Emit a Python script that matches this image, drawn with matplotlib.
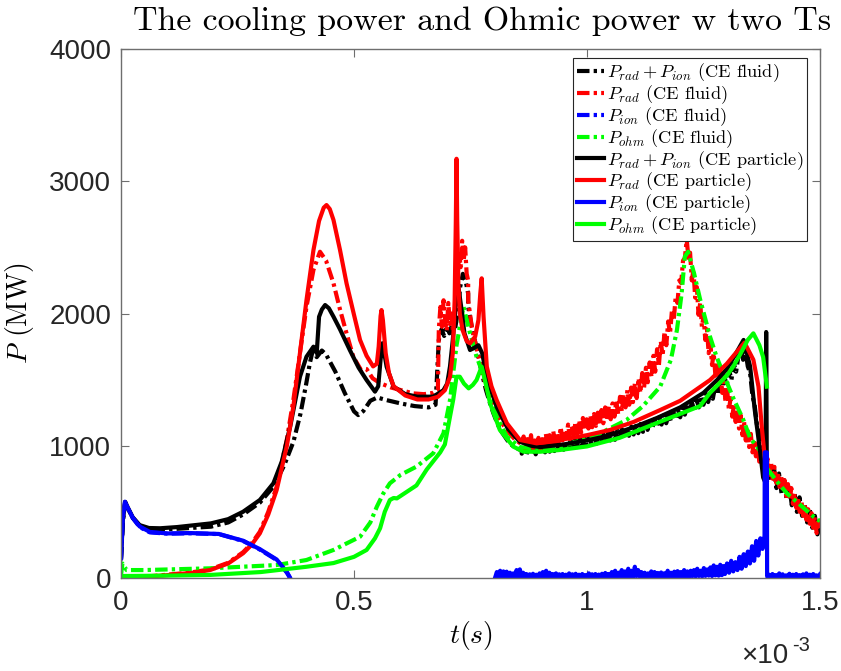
import numpy as np
import matplotlib
matplotlib.use("Agg")
import matplotlib.pyplot as plt
from matplotlib.font_manager import FontProperties

plt.rcParams['mathtext.fontset'] = 'cm'

# ---------------- data (time in ms, power in MW) ----------------
# P_rad + P_ion (CE fluid) -- smooth part
tot_fluid_t = [0, 0.004, 0.009, 0.015, 0.025, 0.04, 0.06, 0.084, 0.12, 0.193, 0.23, 0.262, 0.298,
               0.327, 0.35, 0.37, 0.385, 0.397, 0.405, 0.413, 0.42, 0.431, 0.44, 0.46, 0.48, 0.50,
               0.509, 0.52, 0.535, 0.55, 0.57, 0.60, 0.63, 0.66, 0.675]
tot_fluid_p = [140, 430, 565, 525, 455, 395, 370, 365, 372, 388, 420, 480, 570,
               690, 850, 1030, 1240, 1460, 1620, 1745, 1670, 1720, 1690, 1560, 1400, 1260,
               1232, 1262, 1340, 1365, 1345, 1320, 1300, 1290, 1310]
# noisy parts: (start, end, values)
tot_fluid_n1 = (0.682, 0.745, [1800, 1880, 1830, 1900, 1850, 1920, 1870, 2000, 2200, 2300, 2250, 2150])
tot_fluid_n2 = (0.745, 0.86, [2050, 1900, 1780, 1650, 1530, 1420, 1330, 1250, 1180, 1120, 1080,
                              1040, 1010, 990, 975, 965])
tot_fluid_n3 = (0.86, 1.33, [940, 990, 930, 1000, 945, 985, 935, 1005, 950, 995,
                             950, 1010, 955, 1020, 960, 1025, 965, 1030, 970, 1035,
                             975, 1040, 980, 1050, 990, 1055, 995, 1060, 1000, 1065,
                             1010, 1075, 1015, 1085, 1025, 1090, 1030, 1100, 1040, 1105,
                             1045, 1115, 1055, 1125, 1065, 1135, 1075, 1145, 1085, 1150,
                             1095, 1165, 1105, 1175, 1120, 1190, 1130, 1200, 1145, 1215,
                             1160, 1230, 1170, 1245, 1185, 1260, 1200, 1275, 1215, 1290,
                             1235, 1310, 1250, 1330, 1270, 1350, 1290, 1375, 1310, 1395,
                             1330, 1420, 1355, 1450, 1385, 1480, 1420, 1520, 1460, 1570,
                             1500, 1620, 1560, 1680, 1750])
tot_fluid_n4 = (1.335, 1.39, [1650, 1720, 1600, 1550, 1380, 1300, 1150, 1100, 950, 930, 820, 850])
tot_fluid_n5 = (1.39, 1.5, [820, 730, 840, 680, 790, 640, 740, 590, 700, 550, 650, 500, 610, 470,
                            560, 420, 520, 380, 470, 330, 400])

# P_rad (CE fluid)
rad_fluid_t = [0, 0.05, 0.1, 0.15, 0.191, 0.23, 0.262, 0.28, 0.298, 0.316, 0.334, 0.356, 0.37, 0.384,
               0.398, 0.413, 0.427, 0.44, 0.456, 0.47, 0.484, 0.4985, 0.515, 0.52, 0.527, 0.54,
               0.556, 0.58, 0.627, 0.65, 0.67, 0.68]
rad_fluid_p = [0, 10, 25, 42, 65, 115, 195, 260, 350, 500, 690, 1050, 1350, 1700,
               2050, 2330, 2467, 2400, 2228, 2030, 1850, 1673, 1573, 1585, 1580, 1510,
               1473, 1440, 1396, 1390, 1400, 1420]
rad_fluid_n1 = (0.682, 0.716, [1880, 2050, 1900, 2100, 1950, 1870, 2080, 1920, 2000, 1860, 1980])
rad_fluid_n2 = (0.716, 0.745, [2000, 2150, 2300, 2450, 2350, 2550, 2400, 2500, 2300, 2250])
rad_fluid_n3 = (0.745, 0.86, [2100, 1900, 1780, 1670, 1560, 1450, 1370, 1300, 1245, 1195, 1150,
                              1115, 1080, 1050, 1030, 1010])
rad_fluid_n4 = (0.86, 1.214, [1010, 1070, 960, 1050, 980, 1080, 950, 1040, 990, 1060,
                              960, 1050, 1000, 1090, 990, 1080, 1010, 1110, 1020, 1100,
                              1030, 1140, 1040, 1120, 1060, 1160, 1050, 1150, 1080, 1180,
                              1090, 1190, 1100, 1210, 1120, 1200, 1130, 1230, 1140, 1240,
                              1150, 1250, 1160, 1270, 1170, 1290, 1190, 1300, 1200, 1320,
                              1220, 1340, 1240, 1370, 1260, 1390, 1290, 1420, 1310, 1440,
                              1330, 1470, 1360, 1510, 1400, 1550, 1440, 1590, 1480, 1630,
                              1520, 1680, 1560, 1730, 1610, 1790, 1680, 1860, 1760, 1940,
                              1850, 2020, 1950, 2120, 2080, 2250, 2230, 2400, 2420, 2560])
rad_fluid_n5 = (1.214, 1.5, [2560, 2420, 2460, 2250, 2330, 2120, 2200, 1990, 2080, 1900,
                             1980, 1800, 1880, 1700, 1780, 1610, 1700, 1530, 1620, 1460,
                             1560, 1400, 1480, 1330, 1420, 1270, 1360, 1220, 1310, 1180,
                             1280, 1130, 1230, 1080, 1180, 1040, 1130, 990, 1090, 950,
                             1050, 920, 1010, 880, 970, 840, 930, 800, 900, 780,
                             870, 750, 840, 720, 800, 690, 770, 650, 740, 620,
                             710, 590, 680, 560, 640, 530, 610, 500, 580, 470,
                             550, 440, 520, 410, 490, 380, 460, 340, 430, 380])

# P_ion (CE fluid)
ion_fluid_t = [0, 0.004, 0.0086, 0.015, 0.025, 0.04, 0.062, 0.1, 0.148, 0.21, 0.262, 0.298,
               0.334, 0.356, 0.363]
ion_fluid_p = [140, 450, 577, 525, 455, 385, 345, 335, 338, 332, 280, 215, 136, 40, 0]

# P_ohm (CE fluid)
ohm_fluid_t = [0, 0.003, 0.012, 0.05, 0.19, 0.334, 0.398, 0.456, 0.513, 0.535, 0.549, 0.563, 0.577,
               0.60, 0.634, 0.67, 0.692, 0.706, 0.72, 0.735, 0.749, 0.763, 0.785, 0.806, 0.828,
               0.856, 0.9, 0.942, 1.014, 1.085, 1.12, 1.157, 1.18, 1.193, 1.203, 1.21, 1.217, 1.23,
               1.2425, 1.264, 1.278, 1.30, 1.314, 1.335, 1.35, 1.37, 1.386, 1.41, 1.429, 1.46,
               1.486, 1.5]
ohm_fluid_p = [20, 110, 60, 60, 73, 98, 136, 212, 312, 420, 539, 640, 716,
               780, 842, 943, 1094, 1346, 1760, 2051, 1850, 1673, 1472, 1220, 1069,
               990, 975, 993, 1069, 1195, 1300, 1447, 1650, 1875, 2150, 2430, 2467, 2300,
               2110, 1825, 1673, 1480, 1360, 1200, 1060, 968, 830, 720, 640, 545,
               464, 430]

# P_rad + P_ion (CE particle)
tot_part_t = [0, 0.004, 0.009, 0.015, 0.025, 0.04, 0.06, 0.084, 0.12, 0.193, 0.23, 0.262, 0.298,
              0.327, 0.345, 0.363, 0.384, 0.398, 0.413, 0.42, 0.425, 0.431, 0.438, 0.446, 0.456,
              0.47, 0.491, 0.51, 0.527, 0.545, 0.552, 0.557, 0.561, 0.565, 0.57, 0.585, 0.61,
              0.636, 0.67, 0.692, 0.70, 0.706, 0.712, 0.718, 0.724, 0.73, 0.737, 0.749, 0.758,
              0.767, 0.775, 0.785, 0.806, 0.83, 0.856, 0.88, 0.90, 0.95, 1.0, 1.05, 1.1, 1.15,
              1.2, 1.25, 1.28, 1.30, 1.32, 1.336, 1.35, 1.36, 1.371, 1.378, 1.383, 1.3845, 1.386]
tot_part_p = [150, 440, 575, 530, 460, 400, 378, 376, 385, 413, 445, 501, 590,
              716, 880, 1144, 1522, 1673, 1749, 1700, 1975, 2030, 2064, 2040, 1976,
              1880, 1724, 1590, 1497, 1409, 1450, 1650, 1775, 1700, 1598, 1447, 1390,
              1371, 1371, 1420, 1470, 1600, 1800, 2050, 2200, 2050, 1850, 1724, 1740,
              1760, 1700, 1522, 1295, 1130, 1030, 1000, 990, 1010, 1040, 1080, 1140, 1210,
              1290, 1400, 1500, 1580, 1700, 1800, 1600, 1270, 970, 760, 720, 1860, 690]

# P_rad (CE particle)
rad_part_t = [0, 0.05, 0.1, 0.15, 0.191, 0.23, 0.262, 0.28, 0.298, 0.316, 0.334, 0.356, 0.37, 0.384,
              0.398, 0.413, 0.425, 0.435, 0.441, 0.448, 0.456, 0.47, 0.484, 0.50, 0.513, 0.527,
              0.541, 0.549, 0.553, 0.557, 0.559, 0.562, 0.568, 0.575, 0.585, 0.61, 0.636, 0.66,
              0.68, 0.695, 0.706, 0.712, 0.716, 0.7185, 0.72, 0.7215, 0.724, 0.727, 0.733, 0.742,
              0.749, 0.76, 0.767, 0.771, 0.774, 0.778, 0.785, 0.795, 0.806, 0.828, 0.856, 0.892,
              0.942, 1.0, 1.05, 1.1, 1.157, 1.2, 1.264, 1.30, 1.338, 1.357, 1.368, 1.375, 1.382,
              1.386]
rad_part_p = [0, 8, 22, 38, 60, 110, 187, 250, 338, 480, 665, 1000, 1300, 1700,
              2100, 2480, 2700, 2800, 2820, 2790, 2707, 2480, 2228, 1990, 1800, 1680,
              1600, 1620, 1750, 1980, 2026, 1950, 1700, 1550, 1450, 1380, 1350, 1350,
              1370, 1420, 1520, 1700, 2100, 2700, 3170, 2700, 2228, 2000, 1875, 1790,
              1775, 1825, 1950, 2150, 2266, 1976, 1598, 1450, 1346, 1170, 1044, 1018,
              1044, 1080, 1120, 1180, 1270, 1340, 1497, 1620, 1780, 1650, 1447, 1144, 892,
              741]

# P_ion (CE particle)
ion_part_t = [0, 0.004, 0.0086, 0.015, 0.025, 0.04, 0.062, 0.1, 0.148, 0.21, 0.262, 0.298,
              0.334, 0.356, 0.363]
ion_part_p = [150, 460, 575, 528, 458, 390, 348, 337, 340, 333, 282, 218, 140, 45, 0]
ion_part_n1 = (0.803, 1.293, [5, 45, 10, 55, 8, 50, 12, 48, 6, 40,
                              10, 35, 5, 60, 8, 65, 10, 40, 4, 30,
                              8, 28, 5, 32, 10, 25, 6, 35, 8, 45,
                              10, 55, 8, 40, 5, 30, 10, 35, 6, 28,
                              8, 30, 5, 25, 10, 35, 6, 28, 8, 32,
                              5, 25, 10, 30, 6, 22, 8, 35, 5, 28,
                              10, 30, 6, 26, 8, 32, 5, 38, 10, 30,
                              6, 45, 10, 55, 8, 40, 12, 60, 8, 50,
                              10, 70, 12, 55, 8, 85, 15, 60, 10, 45,
                              8, 40, 10, 35, 6, 50, 10, 45, 8, 38,
                              10, 42, 8, 36, 12, 55, 8, 40, 10, 48,
                              12, 52, 10, 45, 8, 60, 12, 50, 10, 55,
                              14, 60, 12, 70, 15, 55, 12, 75, 16, 65,
                              18, 80, 15, 95, 20, 85, 18, 100, 22, 90])
ion_part_n2 = (1.296, 1.381, [30, 110, 40, 130, 50, 120, 60, 160, 70, 180, 90, 200, 110, 240, 130,
                              280, 170, 300, 220, 320])
ion_part_spike_t = [1.3815, 1.386, 1.3865]
ion_part_spike_p = [950, 950, 20]
ion_part_n3 = (1.387, 1.5, [8, 25, 5, 30, 10, 22, 6, 35, 8, 28, 5, 20, 10, 32, 6, 25, 8, 30, 5, 22,
                            10, 28, 6, 35, 8, 25, 5, 30, 10, 20, 6, 28])

# P_ohm (CE particle)
ohm_part_t = [0, 0.005, 0.1, 0.19, 0.3, 0.398, 0.456, 0.5, 0.527, 0.545, 0.556, 0.566, 0.577, 0.585,
              0.592, 0.634, 0.656, 0.685, 0.695, 0.706, 0.713, 0.72, 0.727, 0.736, 0.746, 0.755,
              0.763, 0.774, 0.782, 0.792, 0.813, 0.842, 0.864, 0.9, 0.942, 1.0, 1.07, 1.157,
              1.2425, 1.264, 1.30, 1.314, 1.33, 1.345, 1.357, 1.37, 1.378, 1.386]
ohm_part_p = [5, 15, 18, 23, 45, 85, 113, 160, 212, 300, 376, 500, 590, 605,
              602, 700, 820, 950, 1010, 1220, 1350, 1522, 1522, 1470, 1434, 1460,
              1497, 1598, 1480, 1321, 1119, 993, 955, 955, 968, 995, 1060, 1182,
              1300, 1400, 1530, 1600, 1700, 1800, 1850, 1760, 1670, 1447]

labels = [r'$P_{rad}+P_{ion}$ (CE fluid)', r'$P_{rad}$ (CE fluid)', r'$P_{ion}$ (CE fluid)',
          r'$P_{ohm}$ (CE fluid)', r'$P_{rad}+P_{ion}$ (CE particle)', r'$P_{rad}$ (CE particle)',
          r'$P_{ion}$ (CE particle)', r'$P_{ohm}$ (CE particle)']
colors = ['#000000', '#ff0000', '#0000ff', '#00ff00']
x_ticks = [0, 0.5, 1, 1.5]
x_ticklabels = ['0', '0.5', '1', '1.5']
y_ticks = [0, 1000, 2000, 3000, 4000]


# ---------------- helpers ----------------
def join(t_list, p_list, *segs):
    ts = [np.asarray(t_list, float)]
    ps = [np.asarray(p_list, float)]
    for s in segs:
        if s is None:
            ts.append(np.array([np.nan]))
            ps.append(np.array([np.nan]))
        elif len(s) == 2:
            ts.append(np.asarray(s[0], float))
            ps.append(np.asarray(s[1], float))
        else:
            t0, t1, vals = s
            ts.append(np.linspace(t0, t1, len(vals)))
            ps.append(np.asarray(vals, float))
    return np.concatenate(ts) * 1e-3, np.concatenate(ps)


fig = plt.figure(figsize=(8.41, 6.71), dpi=100)
ax = fig.add_axes([121 / 841, 1 - 578 / 671, 699 / 841, 529 / 671])

LW = 3.0
DASH = (0, (3, 1, 0.8, 1))

series_fluid = [
    join(tot_fluid_t, tot_fluid_p, tot_fluid_n1, tot_fluid_n2, tot_fluid_n3, tot_fluid_n4, tot_fluid_n5),
    join(rad_fluid_t, rad_fluid_p, rad_fluid_n1, rad_fluid_n2, rad_fluid_n3, rad_fluid_n4, rad_fluid_n5),
    join(ion_fluid_t, ion_fluid_p),
    join(ohm_fluid_t, ohm_fluid_p),
]
series_part = [
    join(tot_part_t, tot_part_p),
    join(rad_part_t, rad_part_p),
    join(ion_part_t, ion_part_p, None, ion_part_n1, ion_part_n2,
         (ion_part_spike_t, ion_part_spike_p), ion_part_n3),
    join(ohm_part_t, ohm_part_p),
]

handles = []
for (t, p), c, lab in zip(series_fluid, colors, labels[:4]):
    h, = ax.plot(t, p, color=c, lw=LW, linestyle=DASH, label=lab)
    handles.append(h)
for (t, p), c, lab in zip(series_part, colors, labels[4:]):
    h, = ax.plot(t, p, color=c, lw=LW, linestyle='-', label=lab)
    handles.append(h)

ax.set_xlim(0, 1.5e-3)
ax.set_ylim(0, 4000)
ax.set_xticks([v * 1e-3 for v in x_ticks])
ax.set_xticklabels(x_ticklabels)
ax.set_yticks(y_ticks)
ax.set_yticklabels([str(v) for v in y_ticks])

spine_col = '#6e6e6e'
for s in ax.spines.values():
    s.set_color(spine_col)
    s.set_linewidth(1.0)
ax.tick_params(direction='in', length=6, width=0.8, color=spine_col, top=True, right=True,
               labelsize=20, labelcolor='#262626')
ax.tick_params(axis='x', pad=9)
ax.tick_params(axis='y', pad=7)
for lab in ax.get_xticklabels() + ax.get_yticklabels():
    lab.set_fontfamily('Liberation Sans')

ax.set_xlabel(r'$t(s)$', fontsize=20)
ax.xaxis.set_label_coords(0.5, -0.078)
ax.set_ylabel(r'$P$ (MW)', fontsize=20, fontfamily='cmr10')
ax.yaxis.set_label_coords(-0.122, 0.5)

fig.text(482 / 841, 1 - 21 / 671, 'The cooling power and Ohmic power w two Ts',
         fontfamily='cmr10', fontsize=24.4, ha='center', va='center')

fig.text(741 / 841, 1 - 663 / 671, '\u00d710', fontfamily='Liberation Sans', fontsize=20,
         color='#262626', ha='left', va='baseline')
fig.text(792 / 841, 1 - 651 / 671, '-3', fontfamily='Liberation Sans', fontsize=14.5,
         color='#262626', ha='left', va='baseline')

leg = ax.legend(handles=handles, loc='upper right',
                bbox_to_anchor=((807 - 121) / 699, (578 - 58) / 529),
                prop=FontProperties(family='cmr10', size=13.2),
                handlelength=1.5, handletextpad=0.15, labelspacing=-0.05,
                borderpad=0.2, borderaxespad=0.0, fancybox=False, framealpha=1,
                edgecolor='#262626')
leg.get_frame().set_linewidth(0.8)

fig.savefig('out.png', dpi=100)
